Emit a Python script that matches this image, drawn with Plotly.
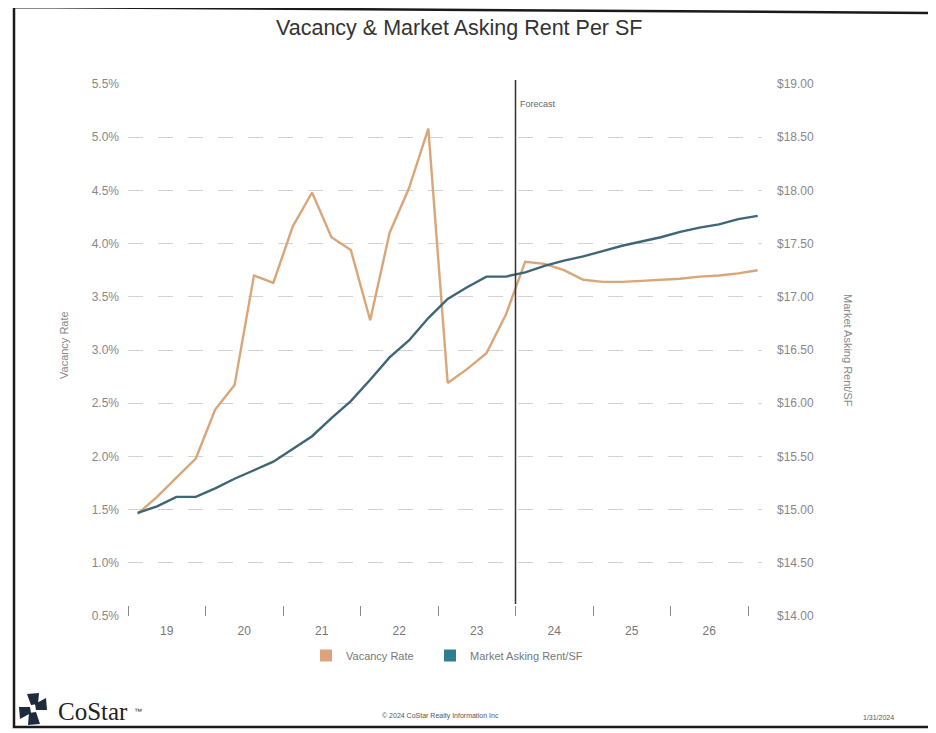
import plotly.graph_objects as go

# ---------------- data ----------------
quarters = [
    "2019 Q1", "2019 Q2", "2019 Q3", "2019 Q4",
    "2020 Q1", "2020 Q2", "2020 Q3", "2020 Q4",
    "2021 Q1", "2021 Q2", "2021 Q3", "2021 Q4",
    "2022 Q1", "2022 Q2", "2022 Q3", "2022 Q4",
    "2023 Q1", "2023 Q2", "2023 Q3", "2023 Q4",
    "2024 Q1", "2024 Q2", "2024 Q3", "2024 Q4",
    "2025 Q1", "2025 Q2", "2025 Q3", "2025 Q4",
    "2026 Q1", "2026 Q2", "2026 Q3", "2026 Q4",
    "2027 Q1",
]
vacancy_rate = [
    1.46, 1.62, 1.80, 1.98,
    2.44, 2.67, 3.70, 3.63,
    4.16, 4.48, 4.06, 3.94,
    3.28, 4.10, 4.52, 5.08,
    2.69, 2.82, 2.97, 3.33,
    3.83, 3.81, 3.75, 3.66,
    3.64, 3.64, 3.65, 3.66,
    3.67, 3.69, 3.70, 3.72,
    3.75,
]
asking_rent = [
    14.97, 15.03, 15.12, 15.12,
    15.20, 15.29, 15.37, 15.45,
    15.57, 15.69, 15.86, 16.02,
    16.22, 16.43, 16.59, 16.80,
    16.98, 17.09, 17.19, 17.19,
    17.23, 17.29, 17.34, 17.38,
    17.43, 17.48, 17.52, 17.56,
    17.61, 17.65, 17.68, 17.73,
    17.76,
]
year_labels = ["19", "20", "21", "22", "23", "24", "25", "26"]
label_years = [2019, 2020, 2021, 2022, 2023, 2024, 2025, 2026]
vac_ticks = [0.5, 1.0, 1.5, 2.0, 2.5, 3.0, 3.5, 4.0, 4.5, 5.0, 5.5]
rent_ticks = [14.0, 14.5, 15.0, 15.5, 16.0, 16.5, 17.0, 17.5, 18.0, 18.5, 19.0]
forecast_start = "2024 Q1"

# quarter label -> fractional year (middle of quarter)
def qpos(q):
    y, qq = q.split(" Q")
    return int(y) + (int(qq) - 0.5) / 4.0

xs = [qpos(q) for q in quarters]
forecast_x = int(forecast_start.split(" ")[0])

VAC_COLOR = "#D9A679"
RENT_COLOR = "#3E6674"
FONT = "Liberation Sans"

# page offset (body margin) and plot area in reference pixels
OFF = 8
W, H = 936 - OFF, 733 - OFF
L, R, T, B = 128 - OFF, 762 - OFF, 84 - OFF, 616 - OFF

def px(x):  # reference pixel x -> paper
    return (x - OFF - L) / (R - L)

def py(y):  # reference pixel y -> paper
    return (B - (y - OFF)) / (B - T)

fig = go.Figure()
fig.add_trace(go.Scatter(x=xs, y=vacancy_rate, mode="lines", name="Vacancy Rate",
                         line=dict(color=VAC_COLOR, width=2.4), showlegend=False))
fig.add_trace(go.Scatter(x=xs, y=asking_rent, mode="lines", name="Market Asking Rent/SF",
                         line=dict(color=RENT_COLOR, width=2.4), yaxis="y2", showlegend=False))
# legend swatches (one legend box each so their spacing can follow the reference)
fig.add_trace(go.Scatter(x=[None], y=[None], mode="markers", name="Vacancy Rate",
                         marker=dict(symbol="square", size=12, color="#DDA47C"),
                         legend="legend"))
fig.add_trace(go.Scatter(x=[None], y=[None], mode="markers", name="Market Asking Rent/SF",
                         marker=dict(symbol="square", size=12, color="#2F7D93"),
                         legend="legend2"))

x0 = 2019
x1 = 2019 + (R - L) / 77.5

logo = "#1E2B3A"
leg_common = dict(orientation="h", yanchor="top", xanchor="left", itemwidth=30,
                  font=dict(size=11, color="#777777"), bgcolor="rgba(0,0,0,0)")

fig.update_layout(
    width=W, height=H,
    margin=dict(l=L, r=W - R, t=T, b=H - B, pad=0),
    paper_bgcolor="white", plot_bgcolor="white",
    font=dict(family=FONT, color="#777777", size=11),
    xaxis=dict(
        range=[x0, x1], showgrid=False, zeroline=False, showline=False,
        tickvals=[y + 0.5 for y in label_years], ticktext=year_labels,
        ticks="", tickfont=dict(size=12, color="#777777"), ticklabelstandoff=6,
        minor=dict(tickvals=list(range(2019, 2028)), ticks="inside", ticklen=10,
                   tickcolor="#888888", tickwidth=1, showgrid=False),
    ),
    yaxis=dict(
        range=[0.5, 5.5], tickvals=vac_ticks,
        ticktext=[f"{v:.1f}%" for v in vac_ticks],
        showgrid=True, gridcolor="#D2D2D2", griddash="longdash", gridwidth=1,
        zeroline=False, showline=False, ticks="", ticklabelstandoff=8,
        tickfont=dict(size=12, color="#888888"),
    ),
    yaxis2=dict(
        range=[14, 19], tickvals=rent_ticks,
        ticktext=[f"${v:.2f}" for v in rent_ticks],
        overlaying="y", side="right", showgrid=False, zeroline=False,
        showline=False, ticks="", ticklabelstandoff=14,
        tickfont=dict(size=12, color="#888888"),
    ),
    legend=dict(x=px(306), y=py(641), **leg_common),
    legend2=dict(x=px(430), y=py(641), **leg_common),
    shapes=[
        # forecast divider
        dict(type="line", xref="x", yref="paper", x0=forecast_x, x1=forecast_x,
             y0=py(604), y1=py(80), line=dict(color="#333333", width=1.5)),
        # page border (scanned frame)
        dict(type="path", xref="paper", yref="paper",
             path=f"M {px(940)},{py(13)} L {px(14)},{py(7)} L {px(14)},{py(727)} L {px(940)},{py(727)}",
             line=dict(color="#1A1A1A", width=2.5)),
        # CoStar logo pinwheel
        dict(type="path", xref="paper", yref="paper",
             path=f"M {px(27)},{py(694)} L {px(39)},{py(693)} L {px(38)},{py(704)} L {px(31)},{py(705)} Z",
             fillcolor=logo, line=dict(width=0)),
        dict(type="path", xref="paper", yref="paper",
             path=f"M {px(46)},{py(698)} L {px(47)},{py(710)} L {px(36)},{py(710)} L {px(35)},{py(704)} Z",
             fillcolor=logo, line=dict(width=0)),
        dict(type="path", xref="paper", yref="paper",
             path=f"M {px(40)},{py(724)} L {px(28)},{py(725)} L {px(29)},{py(713)} L {px(36)},{py(712)} Z",
             fillcolor=logo, line=dict(width=0)),
        dict(type="path", xref="paper", yref="paper",
             path=f"M {px(20)},{py(719)} L {px(19)},{py(707)} L {px(30)},{py(707)} L {px(31)},{py(713)} Z",
             fillcolor=logo, line=dict(width=0)),
    ],
    annotations=[
        dict(text="Vacancy & Market Asking Rent Per SF", xref="paper", yref="paper",
             x=px(459), y=py(28), showarrow=False, xanchor="center", yanchor="middle",
             font=dict(size=21.5, color="#333333", family=FONT)),
        dict(text="Vacancy Rate", xref="paper", yref="paper", x=px(56), y=py(345),
             textangle=-90, showarrow=False, font=dict(size=11, color="#888888")),
        dict(text="Market Asking Rent/SF", xref="paper", yref="paper", x=px(856), y=py(350),
             textangle=90, showarrow=False, font=dict(size=11, color="#888888")),
        dict(text="Forecast", xref="x", yref="paper", x=forecast_x, y=py(97),
             xanchor="left", xshift=2, showarrow=False, font=dict(size=9, color="#666666")),
        dict(text="CoStar", xref="paper", yref="paper", x=px(56), y=py(727),
             xanchor="left", showarrow=False,
             font=dict(size=25, color="#222222", family="Liberation Serif")),
        dict(text="™", xref="paper", yref="paper", x=px(132), y=py(718),
             xanchor="left", showarrow=False,
             font=dict(size=8, color="#333333", family=FONT)),
        dict(text="© 2024 CoStar Realty Information Inc", xref="paper", yref="paper",
             x=px(440), y=py(722), showarrow=False, font=dict(size=7, color="#555555")),
        dict(text="1/31/2024", xref="paper", yref="paper", x=px(896), y=py(723),
             showarrow=False, font=dict(size=7, color="#555555")),
    ],
)

fig.write_html("out.html")
